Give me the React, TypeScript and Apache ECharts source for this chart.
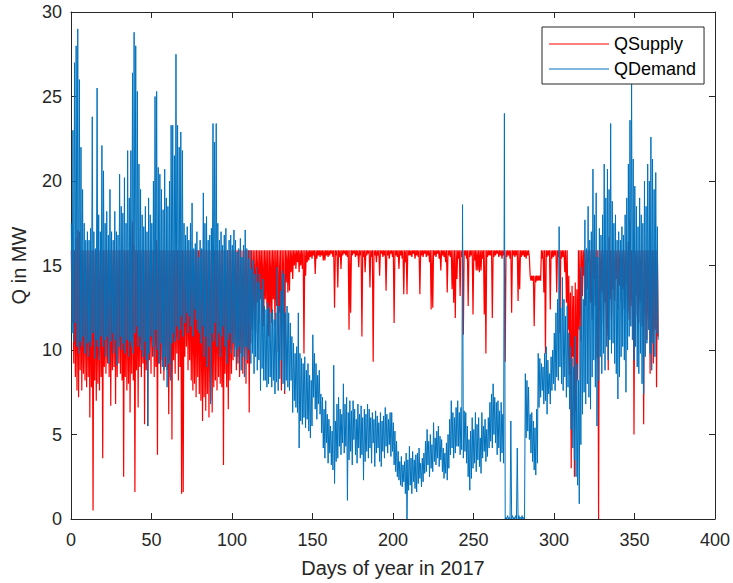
import React, { useEffect, useRef } from "react";
import * as echarts from "echarts";

const seriesNames = ["QSupply", "QDemand"];
const xAxisTitle = "Days of year in 2017";
const yAxisTitle = "Q in MW";

// Daily maximum / minimum of QSupply (red), day 0..364
const supplyHigh = [
  15.9, 15.9, 15.9, 16.6, 17.1, 17.0, 15.9, 15.9, 15.9, 15.9,
  15.9, 15.9, 15.9, 15.9, 15.9, 15.9, 15.9, 15.9, 15.9, 15.9,
  15.9, 15.9, 15.9, 15.9, 15.9, 15.9, 15.9, 15.9, 15.9, 15.9,
  15.9, 15.9, 15.9, 15.9, 15.9, 15.9, 15.9, 15.9, 17.6, 16.2,
  15.9, 15.9, 15.9, 15.9, 15.9, 15.9, 15.9, 15.9, 15.9, 15.9,
  15.9, 15.9, 15.9, 16.5, 15.9, 15.9, 15.9, 15.9, 15.9, 15.9,
  15.9, 15.9, 15.9, 15.9, 15.9, 15.9, 15.9, 15.9, 15.9, 15.9,
  15.9, 15.9, 15.9, 15.9, 15.9, 15.9, 15.9, 15.9, 15.9, 15.9,
  15.9, 15.9, 15.9, 15.9, 15.9, 15.9, 15.9, 15.9, 15.9, 15.9,
  15.9, 15.9, 15.9, 15.9, 15.9, 15.9, 15.9, 15.9, 15.9, 15.9,
  15.9, 15.9, 15.9, 15.9, 15.9, 15.9, 15.9, 15.9, 15.9, 15.9,
  15.9, 15.9, 15.9, 15.9, 15.9, 15.9, 15.9, 15.9, 15.9, 15.9,
  15.9, 15.9, 15.9, 15.9, 15.9, 15.9, 15.9, 15.9, 15.9, 15.9,
  15.9, 15.9, 15.9, 15.9, 15.9, 15.9, 15.9, 15.9, 15.9, 15.9,
  15.9, 15.9, 15.9, 15.9, 15.9, 15.9, 15.9, 15.9, 15.9, 15.9,
  15.9, 15.9, 15.9, 15.9, 15.9, 15.9, 15.9, 15.9, 15.9, 15.9,
  15.9, 15.9, 15.9, 15.9, 15.9, 15.9, 15.9, 15.9, 15.9, 15.9,
  15.9, 15.9, 15.9, 15.9, 15.9, 15.9, 15.9, 15.9, 15.9, 15.9,
  15.9, 15.9, 15.9, 15.9, 15.9, 15.9, 15.9, 15.9, 15.9, 15.9,
  15.9, 15.9, 15.9, 15.9, 15.9, 15.9, 15.9, 15.9, 15.9, 15.9,
  15.9, 15.9, 15.9, 15.9, 15.9, 15.9, 15.9, 15.9, 15.9, 15.9,
  15.9, 15.9, 15.9, 15.9, 15.9, 15.9, 15.9, 15.9, 15.9, 15.9,
  15.9, 15.9, 15.9, 15.9, 15.9, 15.9, 15.9, 15.9, 15.9, 15.9,
  15.9, 15.9, 15.9, 15.9, 15.9, 15.9, 15.9, 15.9, 15.9, 15.9,
  15.9, 15.9, 15.9, 15.9, 15.9, 15.9, 15.9, 15.9, 15.9, 15.9,
  15.9, 15.9, 15.9, 15.9, 15.9, 15.9, 15.9, 15.9, 15.9, 15.9,
  15.9, 15.9, 15.9, 15.9, 15.9, 15.9, 15.9, 15.9, 15.9, 15.9,
  15.9, 15.9, 15.9, 15.9, 15.9, 15.9, 15.9, 15.9, 15.9, 15.9,
  15.9, 15.9, 15.9, 15.9, 15.9, 14.4, 14.4, 14.4, 14.4, 14.4,
  14.4, 14.4, 15.9, 15.9, 15.9, 15.9, 15.9, 15.9, 15.9, 15.9,
  15.9, 15.9, 15.9, 15.9, 15.9, 15.9, 15.9, 15.9, 15.9, 14.4,
  13.4, 13.8, 13.2, 14.0, 13.6, 15.9, 15.9, 15.9, 15.9, 15.9,
  15.9, 15.9, 15.9, 15.9, 15.9, 15.9, 15.9, 15.9, 15.9, 15.9,
  15.9, 15.9, 15.9, 15.9, 16.7, 15.9, 15.9, 15.9, 15.9, 15.9,
  15.9, 15.9, 15.9, 15.9, 15.9, 15.9, 16.4, 17.7, 15.9, 15.9,
  15.9, 15.9, 15.9, 15.9, 15.9, 15.9, 15.9, 15.9, 15.9, 15.9,
  15.9, 15.9, 15.9, 15.9, 15.9,
];

const supplyLow = [
  11.6, 9.2, 8.4, 7.6, 7.2, 8.8, 7.6, 8.6, 8.2, 7.8,
  8.4, 6.0, 7.8, 0.5, 8.2, 7.0, 8.0, 7.6, 8.4, 3.6,
  9.0, 8.6, 9.2, 8.4, 6.7, 8.8, 9.0, 6.8, 8.4, 9.2,
  8.6, 8.2, 2.5, 8.4, 7.6, 8.0, 6.3, 8.6, 8.2, 1.6,
  8.8, 6.6, 9.0, 8.4, 9.2, 5.6, 8.8, 5.5, 9.4, 8.6,
  9.6, 8.4, 9.0, 3.8, 9.2, 8.6, 9.4, 8.2, 9.0, 8.8,
  6.2, 8.4, 4.7, 9.4, 8.6, 9.8, 8.2, 9.0, 1.5, 1.6,
  9.6, 10.2, 8.8, 9.4, 8.2, 7.6, 8.0, 7.2, 8.4, 7.4,
  7.0, 5.8, 7.2, 6.4, 7.4, 6.0, 7.0, 6.3, 7.8, 8.2,
  7.6, 8.4, 8.0, 7.8, 3.2, 8.6, 7.8, 6.5, 8.2, 8.6,
  9.4, 10.2, 8.8, 9.6, 8.4, 9.8, 8.6, 10.0, 8.0, 9.2,
  6.3, 10.4, 11.2, 12.4, 11.0, 12.8, 11.6, 13.0, 12.2, 11.4,
  13.0, 12.4, 10.8, 12.2, 11.6, 13.0, 11.4, 12.6, 9.9, 12.2,
  7.6, 12.8, 7.4, 14.0, 13.4, 13.5, 14.6, 14.2, 15.0, 14.8,
  15.2, 14.6, 15.0, 14.8, 9.8, 14.4, 15.2, 15.3, 15.5, 15.4,
  15.6, 14.5, 15.4, 15.6, 15.5, 15.6, 15.3, 15.3, 15.6, 15.5,
  15.6, 15.7, 15.5, 12.5, 15.6, 13.7, 15.5, 14.8, 15.6, 15.7,
  15.6, 15.5, 11.2, 12.2, 15.6, 15.7, 15.5, 15.6, 14.9, 15.6,
  10.8, 15.5, 14.6, 15.6, 15.7, 13.7, 15.5, 9.3, 15.6, 15.2,
  15.6, 14.4, 15.7, 15.5, 15.6, 13.5, 15.6, 15.4, 15.7, 15.5,
  11.6, 15.6, 15.5, 14.8, 15.6, 15.4, 13.3, 15.2, 13.3, 15.6,
  15.6, 15.5, 15.7, 15.4, 15.6, 15.5, 13.3, 15.6, 15.5, 15.7,
  15.5, 15.6, 15.2, 12.4, 12.5, 15.6, 15.5, 15.7, 15.4, 14.7,
  15.6, 15.5, 15.2, 13.4, 15.6, 15.5, 13.6, 12.8, 11.9, 14.2,
  15.4, 13.2, 15.5, 10.9, 15.6, 15.4, 12.6, 15.5, 15.6, 12.1,
  15.3, 14.7, 14.7, 14.6, 14.7, 15.4, 12.1, 9.8, 15.5, 15.6,
  15.6, 11.9, 15.5, 15.6, 15.7, 15.5, 15.6, 15.4, 15.6, 9.3,
  15.5, 15.6, 15.4, 12.2, 15.6, 15.5, 15.6, 12.9, 13.6, 15.5,
  15.6, 15.5, 15.4, 15.6, 15.5, 14.1, 14.1, 11.4, 14.0, 14.1,
  14.1, 14.1, 15.4, 13.4, 9.8, 15.5, 15.6, 12.4, 15.4, 15.5,
  15.6, 13.4, 15.5, 11.0, 15.4, 15.5, 14.6, 12.8, 11.2, 8.5,
  3.0, 9.6, 2.5, 6.4, 8.2, 11.2, 10.5, 13.2, 14.4, 12.6,
  13.6, 15.2, 12.8, 11.8, 14.2, 12.6, 9.5, 0.0, 12.4, 13.4,
  11.6, 12.8, 10.8, 8.8, 13.0, 11.8, 13.6, 12.9, 14.2, 12.4,
  13.8, 12.9, 13.6, 12.4, 14.0, 12.2, 11.8, 12.6, 11.4, 5.0,
  13.2, 12.0, 11.6, 12.8, 11.4, 5.6, 12.2, 10.6, 11.8, 8.6,
  10.4, 9.2, 11.2, 7.8, 10.8,
];

// Daily maximum / minimum of QDemand (blue), day 0..364
const demandHigh = [
  17.5, 23, 27, 28, 29, 26, 22, 19.5, 17.5, 16.5,
  17, 16.5, 17.2, 23.8, 17, 16, 25.5, 18, 17, 22.1,
  20.6, 17.5, 18.2, 16.8, 19.5, 17, 16.5, 18.2, 17, 16.8,
  20.4, 18.5, 18.1, 20.2, 17.5, 21.8, 19, 21.8, 26.4, 28.8,
  28, 25.3, 21, 19.5, 18, 17.3, 18.5, 17, 19, 18,
  17.5, 20, 25, 25.3, 20.8, 20.4, 19.5, 18.3, 20.7, 19,
  18.5, 20, 23.3, 23.3, 21.5, 27.5, 23.3, 22, 22.9, 21.8,
  17.5, 16.8, 17.3, 16.5, 17.5, 18.7, 16, 16.3, 17, 15.5,
  16.5, 16, 19.3, 17.5, 17.9, 16.5, 16.8, 17.2, 23.4, 22.3,
  23.4, 17.5, 16.5, 17, 16.2, 16.8, 17.2, 15.9, 16.5, 16.8,
  16.2, 17.1, 16.5, 15.8, 16, 16.6, 15.5, 16.2, 17.1, 16,
  15.4, 15.9, 14.8, 15.3, 14.5, 14.9, 14, 14.5, 13.6, 14.2,
  12.6, 12.4, 12.8, 12.5, 12.2, 12.4, 11.8, 12.2, 14.9, 12.6,
  13.5, 14.7, 14.5, 12.2, 12.6, 12.2, 11.6, 10.8, 10.4, 9.8,
  10.2, 12.2, 9.8, 9.5, 9.2, 9.6, 8.8, 9.2, 8.5, 8.2,
  10.9, 9.8, 9.2, 8.5, 8.8, 7.4, 7.2, 6.5, 7, 6.2,
  5.9, 5.5, 5.2, 9.1, 5.8, 6.8, 7.2, 6.5, 6.2, 8,
  6.8, 7.2, 6.3, 7, 6.4, 7, 6.5, 5.9, 6.8, 6.2,
  6.7, 6, 6.5, 6.2, 6.8, 6.5, 6, 6.3, 5.9, 6.4,
  6.1, 5.7, 6.3, 5.8, 6.1, 6.6, 6.2, 5.9, 6.3, 6.3,
  5.7, 5.2, 4.6, 4, 3.4, 3.7, 3.2, 3.4, 3.9, 3.5,
  4.3, 3.6, 4, 3.5, 3.8, 3.9, 4.2, 3.3, 3.6, 3.9,
  4.6, 5.3, 4.6, 5, 4.4, 5.7, 4.8, 5.2, 5.5, 4.9,
  4.7, 4.2, 3.9, 4.5, 5, 5.9, 7, 6.3, 6, 6.6,
  7, 6.3, 6.6, 18.6, 6.4, 6.3, 5.5, 4.7, 5.2, 6,
  5.3, 6.3, 5.6, 6, 4.8, 6.3, 5.5, 5.9, 5.3, 6,
  6.9, 7.4, 8, 7.2, 6.9, 7, 6.4, 6.9, 6.2, 24,
  0.1, 0.2, 0.1, 5.8, 0.2, 0.1, 0.2, 4.2, 0.2, 0.1,
  0.2, 0.1, 8.6, 8.2, 7.8, 6.2, 6.3, 5.8, 5.4, 6.5,
  9.8, 9.5, 9.2, 9, 9.8, 10.2, 9.4, 8.6, 9.6, 10,
  11, 12.2, 13, 17.3, 12.5, 14.3, 13, 12, 12.6, 11,
  10.2, 9.5, 9, 10.8, 9.2, 8.2, 11.4, 14.9, 13, 17.7,
  16, 18.5, 16.5, 17, 20.7, 18, 19.3, 15.5, 17.2, 16.8,
  18, 21, 19, 20.7, 19.5, 23.4, 18.8, 17.5, 18, 16.5,
  17, 16.5, 17.3, 16.8, 18, 19, 21, 23.6, 26, 21.3,
  19.7, 18.5, 17.3, 19, 18, 17.5, 20, 18.5, 21, 20,
  22.6, 21.3, 19.5, 20.5, 17.3,
];

const demandLow = [
  11, 10.5, 11.6, 10.2, 9.8, 10.5, 10.2, 10.8, 9.8, 10.4,
  9.6, 10.5, 10.2, 11, 9.5, 10.6, 10.2, 9.4, 10.8, 10.2,
  10.6, 9.6, 10.8, 9.2, 10.5, 11, 9.8, 10.6, 9.1, 10.2,
  10.8, 10, 10.4, 9.8, 10.6, 9.6, 10.5, 10.2, 9.8, 11,
  11.4, 10.2, 10.8, 10, 9.6, 10.5, 9.4, 5.5, 9.8, 10.8,
  10.2, 9.6, 11.2, 10, 9.2, 10.4, 9, 8.8, 9.6, 7.8,
  9.2, 8.2, 10.4, 11, 10.5, 11.4, 10.6, 11.2, 12, 10.8,
  11.6, 12.2, 11, 12, 11.4, 10.8, 12.4, 11.8, 11.2, 11,
  10.4, 11.4, 9.6, 10.8, 9, 10.2, 6.8, 11, 10.5, 11.6,
  10.2, 11, 9.6, 10.8, 11.4, 10.2, 9.2, 10.6, 11, 9.8,
  10.4, 9.6, 10, 9.2, 10.2, 8.8, 9.6, 8.4, 10.2, 9.4,
  10, 9.2, 9.8, 8.6, 9.6, 8.8, 9.4, 7.6, 8.9, 8.2,
  8.2, 7.8, 8, 8.4, 7.8, 8.2, 7.4, 8.1, 7.6, 8.3,
  9.4, 8, 7.6, 8.2, 7.8, 7.6, 8.2, 6.3, 7, 6.6,
  6.3, 4.2, 5.8, 5.6, 6, 5.4, 5.9, 5.2, 4.8, 5.5,
  7.2, 6.5, 5.9, 6.8, 6.2, 5.1, 4.2, 3.6, 4.5, 3.3,
  3.9, 3.2, 2.9, 2.1, 3.4, 3.6, 4.3, 3.8, 4.5, 3.9,
  4.3, 1.1, 3.5, 4, 3.2, 4.7, 3.8, 3.3, 4.2, 3.6,
  3.8, 2.3, 3.4, 4, 3.6, 4.2, 3.3, 4.5, 3.1, 3.9,
  4.2, 3.4, 3.1, 4, 3.6, 4.3, 3.9, 4.4, 3.7, 4,
  3.2, 2.8, 2.5, 2.3, 2, 1.9, 2.2, 1.5, 0, 1.7,
  2, 1.5, 2.2, 1.8, 1.6, 2.1, 2.4, 1.9, 2.2, 2.7,
  2.8, 3.2, 2.5, 3, 2.8, 3.4, 3.2, 3.6, 3.1, 3.5,
  2.8, 2.4, 2.7, 2.3, 3, 3.8, 4.2, 3.6, 3.9, 4.3,
  4.3, 3.8, 4.1, 3.6, 4, 3.3, 2.5, 1.7, 2.4, 3,
  3.3, 2.8, 3.5, 3.1, 2.7, 3.6, 4, 3.4, 3.7, 4.2,
  4.6, 4.2, 5, 4.5, 3.8, 4.2, 3.4, 3.9, 3.3, 0,
  0, 0, 0, 0, 0, 0, 0, 0, 0, 0,
  0, 0, 4.8, 5.2, 4.7, 3.9, 3.4, 2.9, 2.6, 3.3,
  6.6, 7.2, 7.6, 6.8, 7, 6.2, 7.4, 6.8, 7.6, 8,
  7.6, 8.4, 8.2, 9, 8, 7.6, 8.4, 7.2, 7.8, 6.5,
  5.3, 4.2, 3.5, 2.5, 2, 0.9, 4.4, 6.2, 7.5, 6.8,
  8, 7.2, 6.5, 8.4, 9.4, 7.8, 5.5, 8.2, 9.6, 8.6,
  9.8, 8.8, 10.2, 9.4, 10.6, 9.8, 10.4, 9.2, 8.6, 7.1,
  8.4, 9.6, 10.2, 9.4, 7.5, 10, 10.8, 11.4, 10.6, 9.4,
  10.2, 9, 8.6, 9.8, 8, 7.4, 9.6, 10.4, 11.2, 9.8,
  8.8, 10.4, 9.6, 11, 10.6,
];

// Each day: its maximum early in the day, its minimum later in the day
function dailyTrace(high: number[], low: number[]): number[][] {
  const pts: number[][] = [];
  for (let i = 0; i < high.length; i++) {
    pts.push([i + 0.2, high[i]]);
    pts.push([i + 0.7, low[i]]);
  }
  return pts;
}

const FONT = "'Liberation Sans', Arial, Helvetica, sans-serif";
const AXIS = "#262626";
const RED = "#FF0000";
const BLUE = "#0072BD";

export default function App() {
  const ref = useRef<HTMLDivElement>(null);

  useEffect(() => {
    if (!ref.current) return;
    const chart = echarts.init(ref.current, undefined, { renderer: "svg" });
    const axisCommon = {
      type: "value" as const,
      axisLine: { show: true, onZero: false, lineStyle: { color: AXIS, width: 1 } },
      axisTick: { show: true, inside: true, length: 6, lineStyle: { color: AXIS } },
      splitLine: { show: false },
    };
    chart.setOption({
      animation: false,
      backgroundColor: "#ffffff",
      grid: { left: 71, right: 17, top: 12, bottom: 64, containLabel: false },
      legend: {
        data: [
          { name: seriesNames[0], icon: "rect", itemStyle: { color: RED } },
          { name: seriesNames[1], icon: "rect", itemStyle: { color: BLUE } },
        ],
        orient: "vertical",
        left: 542,
        top: 27,
        itemWidth: 60,
        itemHeight: 1.2,
        itemGap: 7,
        padding: [8, 8, 6, 7],
        borderColor: AXIS,
        borderWidth: 1,
        backgroundColor: "#ffffff",
        textStyle: { fontSize: 18, color: "#000000", fontFamily: FONT, height: 18, lineHeight: 18 },
      },
      xAxis: [
        {
          ...axisCommon,
          position: "bottom",
          min: 0,
          max: 400,
          interval: 50,
          name: xAxisTitle,
          nameLocation: "middle",
          nameGap: 39,
          nameTextStyle: { fontSize: 20, color: AXIS, fontFamily: FONT },
          axisLabel: { fontSize: 18, color: AXIS, fontFamily: FONT, margin: 12 },
        },
        {
          ...axisCommon,
          position: "top",
          min: 0,
          max: 400,
          interval: 50,
          axisLabel: { show: false },
        },
      ],
      yAxis: [
        {
          ...axisCommon,
          position: "left",
          min: 0,
          max: 30,
          interval: 5,
          name: yAxisTitle,
          nameLocation: "middle",
          nameGap: 42,
          nameTextStyle: { fontSize: 20, color: AXIS, fontFamily: FONT },
          axisLabel: { fontSize: 18, color: AXIS, fontFamily: FONT, margin: 9 },
        },
        {
          ...axisCommon,
          position: "right",
          min: 0,
          max: 30,
          interval: 5,
          axisLabel: { show: false },
        },
      ],
      series: [
        {
          name: seriesNames[0],
          type: "line",
          xAxisIndex: 0,
          yAxisIndex: 0,
          data: dailyTrace(supplyHigh, supplyLow),
          symbol: "none",
          showSymbol: false,
          lineStyle: { color: RED, width: 1.2 },
          itemStyle: { color: RED },
          z: 2,
        },
        {
          name: seriesNames[1],
          type: "line",
          xAxisIndex: 0,
          yAxisIndex: 0,
          data: dailyTrace(demandHigh, demandLow),
          symbol: "none",
          showSymbol: false,
          lineStyle: { color: BLUE, width: 1.0 },
          itemStyle: { color: BLUE },
          z: 3,
        },
      ],
    });
    return () => chart.dispose();
  }, []);

  return (
    <div
      ref={ref}
      style={{ position: "fixed", left: 0, top: 0, width: 733, height: 583, background: "#fff" }}
    />
  );
}
